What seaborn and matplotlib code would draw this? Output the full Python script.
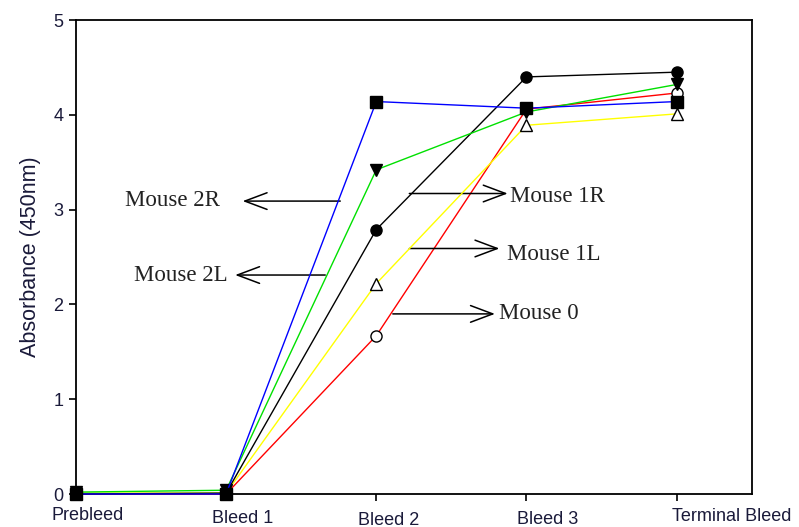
import matplotlib
matplotlib.use("Agg")
import matplotlib.pyplot as plt
import matplotlib.transforms as mtransforms
import seaborn as sns
import pandas as pd

# ---- data ----
timepoints = ["Prebleed", "Bleed 1", "Bleed 2", "Bleed 3", "Terminal Bleed"]
mouse_0 = [0.0, 0.0, 1.67, 4.06, 4.23]
mouse_1L = [0.01, 0.01, 2.22, 3.89, 4.01]
mouse_1R = [0.0, 0.01, 2.79, 4.40, 4.45]
mouse_2L = [0.02, 0.04, 3.42, 4.03, 4.32]
mouse_2R = [0.0, 0.0, 4.14, 4.07, 4.14]

series_names = ["Mouse 0", "Mouse 1L", "Mouse 1R", "Mouse 2L", "Mouse 2R"]
series_vals = [mouse_0, mouse_1L, mouse_1R, mouse_2L, mouse_2R]
line_colors = ["#ff0000", "#ffff00", "#000000", "#00e000", "#0000ff"]
marker_shapes = ["o", "^", "o", "v", "s"]
marker_faces = ["white", "white", "black", "black", "black"]

rows = []
for name, vals in zip(series_names, series_vals):
    for i, v in enumerate(vals):
        rows.append({"series": name, "x": i, "value": v})
df = pd.DataFrame(rows)

sns.set_theme(style="ticks")
plt.rcParams["font.family"] = ["Liberation Sans", "DejaVu Sans"]

fig = plt.figure(figsize=(7.99, 5.27), dpi=100)
ax = fig.add_axes([0.0951, 0.0626, 0.8457, 0.8994])

for i, name in enumerate(series_names):
    sub = df[df["series"] == name]
    sns.lineplot(data=sub, x="x", y="value", ax=ax, color=line_colors[i],
                 linewidth=1.0, marker=marker_shapes[i], markersize=8,
                 markerfacecolor=marker_faces[i], markeredgecolor="black",
                 markeredgewidth=1.0, clip_on=False, zorder=3 + i, legend=False)

ax.set_xlim(0, 4.5)
ax.set_ylim(0, 5)
ax.set_xticks(range(len(timepoints)))
ax.set_xticklabels(timepoints, fontsize=13, color="#1a1a3a")
ax.set_yticks([0, 1, 2, 3, 4, 5])
ax.set_yticklabels(["0", "1", "2", "3", "4", "5"], fontsize=13, color="#1a1a3a")
ax.set_xlabel("")
ax.set_ylabel("Absorbance (450nm)", fontsize=15.5, color="#1a1a3a", labelpad=9)
ax.tick_params(axis="both", direction="out", length=5, width=1.2, color="black", pad=4)

for s in ax.spines.values():
    s.set_visible(True)
    s.set_color("black")
    s.set_linewidth(1.3)

# x tick labels sit offset (right and staggered down) as in the reference
offsets_px = [(12, 0), (16, 3), (12, 5), (21, 4), (55, 1)]
for lab, (dx, dy) in zip(ax.get_xticklabels(), offsets_px):
    lab.set_transform(lab.get_transform() +
                      mtransforms.ScaledTranslation(dx / 100, -dy / 100, fig.dpi_scale_trans))

# annotations
ann_font = dict(family=["Liberation Serif", "DejaVu Serif"], fontsize=16.5, color="#222222")
arrow = dict(arrowstyle="->,head_length=1.6,head_width=0.6", color="black", lw=1.1,
             shrinkA=0, shrinkB=0, mutation_scale=10)

# left-pointing
ax.annotate("", xy=(1.11, 3.09), xytext=(1.76, 3.09), arrowprops=arrow)
ax.text(0.96, 3.10, "Mouse 2R", ha="right", va="center", **ann_font)
ax.annotate("", xy=(1.06, 2.31), xytext=(1.66, 2.31), arrowprops=arrow)
ax.text(1.01, 2.30, "Mouse 2L", ha="right", va="center", **ann_font)

# right-pointing
ax.annotate("", xy=(2.875, 3.17), xytext=(2.22, 3.17), arrowprops=arrow)
ax.text(2.89, 3.14, "Mouse 1R", ha="left", va="center", **ann_font)
ax.annotate("", xy=(2.82, 2.59), xytext=(2.22, 2.59), arrowprops=arrow)
ax.text(2.87, 2.53, "Mouse 1L", ha="left", va="center", **ann_font)
ax.annotate("", xy=(2.79, 1.90), xytext=(2.11, 1.90), arrowprops=arrow)
ax.text(2.82, 1.90, "Mouse 0", ha="left", va="center", **ann_font)

fig.savefig("out.png", dpi=100)
